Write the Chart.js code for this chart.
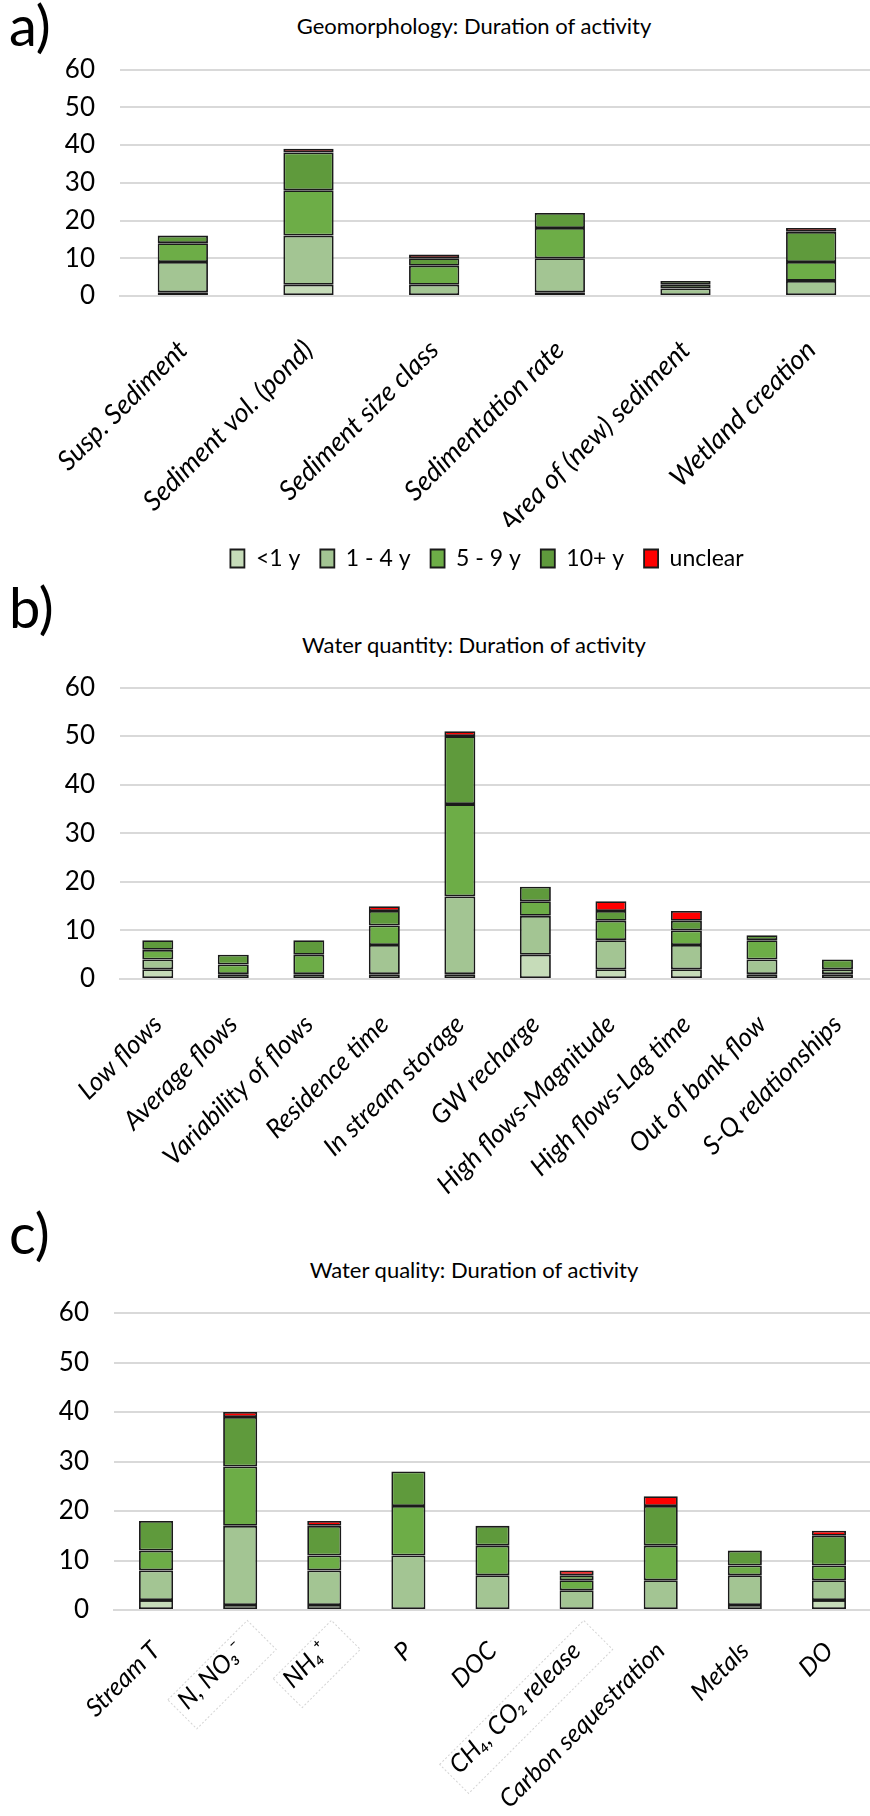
<!DOCTYPE html>
<html>
<head>
<meta charset="utf-8">
<script src="https://cdn.jsdelivr.net/npm/chart.js@4.4.1/dist/chart.umd.min.js"></script>
<style>
  html, body { margin: 0; padding: 0; background: #fff; }
  body { width: 870px; height: 1816px; position: relative; overflow: hidden; font-family: Lato, "Open Sans", sans-serif; }
  canvas { position: absolute; left: 0; }
  .panel { position: absolute; left: 9px; font-size: 56px; line-height: 1; color: #000; }
  .ttl { position: absolute; left: 174px; width: 600px; text-align: center; font-size: 22px; color: #000; }
</style>
</head>
<body>
<div class="panel" style="top:-3px">a)</div>
<div class="panel" style="top:579px">b)</div>
<div class="panel" style="top:1205px">c)</div>
<div class="ttl" style="top:12px">Geomorphology: Duration of activity</div>
<div class="ttl" style="top:631px">Water quantity: Duration of activity</div>
<div class="ttl" style="top:1256px">Water quality: Duration of activity</div>

<canvas id="cvGeo" style="top:0px"></canvas>
<canvas id="cvQuantity" style="top:600px"></canvas>
<canvas id="cvQuality" style="top:1200px"></canvas>

<script>
// legend labels and colours
const durationLabels = ["<1 y", "1 - 4 y", "5 - 9 y", "10+ y", "unclear"];
const durationColors = ["#c6dcb9", "#a3c593", "#6dad47", "#5f9a3c", "#ff0000"];
const yTicks = [0, 10, 20, 30, 40, 50, 60];

// a) Geomorphology
const geoCats = ["Susp. Sediment", "Sediment vol. (pond)", "Sediment size class", "Sedimentation rate", "Area of (new) sediment", "Wetland creation"];
const geoLess1 = [1, 3, 0, 1, 0, 0];
const geo1to4 = [8, 13, 3, 9, 2, 4];
const geo5to9 = [5, 12, 5, 8, 1, 5];
const geo10plus = [2, 10, 2, 4, 1, 8];
const geoUnclear = [0, 1, 1, 0, 0, 1];

// b) Water quantity
const qtyCats = ["Low flows", "Average flows", "Variability of flows", "Residence time", "In stream storage", "GW recharge", "High flows-Magnitude", "High flows-Lag time", "Out of bank flow", "S-Q relationships"];
const qtyLess1 = [2, 0, 0, 1, 1, 5, 2, 2, 1, 1];
const qty1to4 = [2, 1, 1, 6, 16, 8, 6, 5, 3, 1];
const qty5to9 = [2, 2, 4, 4, 19, 3, 4, 3, 4, 0];
const qty10plus = [2, 2, 3, 3, 14, 3, 2, 2, 1, 2];
const qtyUnclear = [0, 0, 0, 1, 1, 0, 2, 2, 0, 0];

// c) Water quality
const qualCats = ["Stream T", "N, NO\u2083\u207B", "NH\u2084\u207A", "P", "DOC", "CH\u2084, CO\u2082 release", "Carbon sequestration", "Metals", "DO"];
const qualLess1 = [2, 1, 1, 0, 0, 0, 0, 1, 2];
const qual1to4 = [6, 16, 7, 11, 7, 4, 6, 6, 4];
const qual5to9 = [4, 12, 3, 10, 6, 2, 7, 2, 3];
const qual10plus = [6, 10, 6, 7, 4, 1, 8, 3, 6];
const qualUnclear = [0, 1, 1, 0, 0, 1, 2, 0, 1];
const qualBoxed = [1, 2, 5]; // labels drawn inside dotted text boxes

Chart.defaults.font.family = "Lato, 'Open Sans', sans-serif";
Chart.defaults.color = "#000";

// dotted frames round some category labels (as in the source figure)
const labelBoxPlugin = {
    id: "labelBoxes",
    afterDraw(chart, args, opts) {
        if (!opts.indices) return;
        const scale = chart.scales.x;
        const size = scale.options.ticks.font.size;
        const ctx = chart.ctx;
        ctx.save();
        ctx.font = "italic " + size + "px Lato, 'Open Sans', sans-serif";
        ctx.strokeStyle = "#d4d4d4";
        ctx.lineWidth = 1;
        ctx.setLineDash([2, 2]);
        opts.indices.forEach(i => {
            const x = scale.getPixelForTick(i);
            const y = scale.top + scale.options.ticks.padding;
            const w = ctx.measureText(scale.getLabels()[i]).width;
            ctx.save();
            ctx.translate(x, y);
            ctx.rotate(-Math.PI / 4);
            ctx.strokeRect(-w - 14, -6, w + 30, size + 16);
            ctx.restore();
        });
        ctx.restore();
    }
};

// nudge the legend sideways after layout (figure legend is not centred on the canvas)
const legendShiftPlugin = {
    id: "legendShift",
    afterLayout(chart, args, opts) {
        if (!opts.dx || !chart.legend) return;
        chart.legend.left += opts.dx;
        chart.legend.right += opts.dx;
    }
};

const makeChart = (canvasId, cfg) => {
    const cv = document.getElementById(canvasId);
    cv.width = cfg.width;
    cv.height = cfg.height;
    cv.style.width = cfg.width + "px";
    cv.style.height = cfg.height + "px";
    const ctx = cv.getContext("2d");
    const series = [cfg.less1, cfg.oneTo4, cfg.fiveTo9, cfg.tenPlus, cfg.unclear];
    const datasets = series.map((arr, k) => ({
        label: durationLabels[k],
        data: arr.map(v => v === 0 ? null : v),
        backgroundColor: durationColors[k],
        borderColor: "#1a1a1a",
        borderWidth: 1.8,
        borderSkipped: false,
        categoryPercentage: 1.0,
        barPercentage: cfg.barPct
    }));
    return new Chart(ctx, {
        type: "bar",
        data: { labels: cfg.cats, datasets: datasets },
        options: {
            responsive: false,
            animation: false,
            layout: { padding: cfg.padding },
            plugins: {
                legend: cfg.legend ? {
                    display: true,
                    position: "bottom",
                    labels: { boxWidth: 14, boxHeight: 18, padding: 20, font: { size: 23 }, color: "#000" }
                } : { display: false },
                tooltip: { enabled: false },
                labelBoxes: { indices: cfg.boxed },
                legendShift: { dx: cfg.legendDx }
            },
            scales: {
                x: {
                    stacked: true,
                    grid: { display: false, drawTicks: false },
                    border: { display: true, color: "#d9d9d9", width: 2 },
                    ticks: {
                        autoSkip: false, minRotation: 45, maxRotation: 45, padding: cfg.labelPad,
                        font: { size: cfg.labelSize, style: "italic" }, color: "#000"
                    },
                    afterFit: s => { s.height = cfg.xHeight; }
                },
                y: {
                    stacked: true,
                    min: 0, max: 60,
                    afterBuildTicks: s => { s.ticks = yTicks.map(v => ({ value: v })); },
                    grid: { color: "#d9d9d9", lineWidth: 2, drawTicks: false },
                    border: { display: false },
                    ticks: { padding: 25, font: { size: 26 }, color: "#000" },
                    afterFit: s => { s.width = cfg.yWidth; }
                }
            }
        },
        plugins: [labelBoxPlugin, legendShiftPlugin]
    });
};

makeChart("cvGeo", {
    width: 890, height: 600, cats: geoCats,
    less1: geoLess1, oneTo4: geo1to4, fiveTo9: geo5to9, tenPlus: geo10plus, unclear: geoUnclear,
    barPct: 0.4, legend: true, legendDx: 50,
    labelSize: 27, labelPad: 38,
    padding: { top: 69.5, left: 0, right: 16, bottom: 20 },
    yWidth: 120, xHeight: 231
});

makeChart("cvQuantity", {
    width: 890, height: 620, cats: qtyCats,
    less1: qtyLess1, oneTo4: qty1to4, fiveTo9: qty5to9, tenPlus: qty10plus, unclear: qtyUnclear,
    barPct: 0.41, legend: false,
    labelSize: 26, labelPad: 30,
    padding: { top: 87.5, left: 0, right: 9, bottom: 0 },
    yWidth: 120, xHeight: 241
});

makeChart("cvQuality", {
    width: 890, height: 616, cats: qualCats,
    less1: qualLess1, oneTo4: qual1to4, fiveTo9: qual5to9, tenPlus: qual10plus, unclear: qualUnclear,
    barPct: 0.405, legend: false, boxed: qualBoxed,
    labelSize: 25, labelPad: 26,
    padding: { top: 113, left: 0, right: 19, bottom: 0 },
    yWidth: 114, xHeight: 206
});
</script>
</body>
</html>
